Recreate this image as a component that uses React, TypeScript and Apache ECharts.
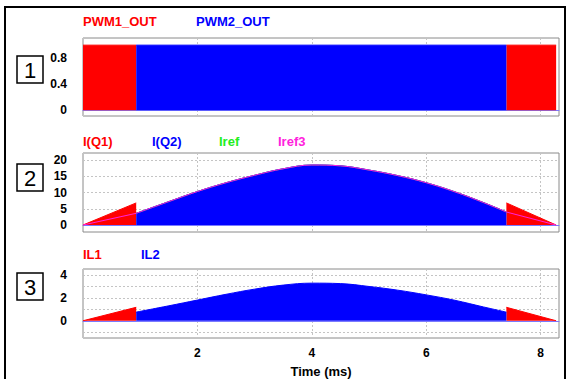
import React, { useEffect, useRef } from "react";
import * as echarts from "echarts";

// ---- data ----
const X_MAX = 8.32;
const xTicks = [2, 4, 6, 8];

// Panel 1: PWM signals (on-intervals, ms)
const pwm1On = [[0, 0.93], [7.40, 8.27]];
const pwm2On = [[0.93, 7.40]];

// Panel 2 / 3 envelope sample times (ms)
const envTime = [0.93, 1.5, 2, 2.5, 3, 3.5, 4, 4.5, 5, 5.5, 6, 6.5, 7, 7.4];
// I(Q2) envelope (A)
const iq2 = [3.6, 7.2, 10.3, 13.0, 15.3, 17.3, 18.45, 18.2, 16.9, 15.2, 13.0, 10.2, 6.9, 4.0];
// I(Q1) ramps: [time, value]
const iq1RampUp = [[0, 0], [0.93, 6.8]];
const iq1RampDown = [[7.40, 6.8], [8.27, 0]];
// Iref3 ramps
const iref3Up = [[0, 0], [0.93, 3.6]];
const iref3Down = [[7.40, 4.0], [8.27, 0]];

// IL2 envelope (A)
const il2 = [0.75, 1.3, 1.8, 2.3, 2.75, 3.1, 3.27, 3.23, 2.98, 2.66, 2.25, 1.78, 1.2, 0.75];
const il1RampUp = [[0, 0], [0.93, 1.17]];
const il1RampDown = [[7.40, 1.17], [8.27, 0]];

const y1Labels = [0, 0.4, 0.8];
const y2Labels = [0, 5, 10, 15, 20];
const y3Grid = [-1, 0, 1, 2, 3, 4];
const y3Labels = [0, 2, 4];

const RED = "#ff0000";
const BLUE = "#0000ff";
const GREEN = "#22ee22";
const MAGENTA = "#ff22dd";
const FONT = 'Arial, "Liberation Sans", sans-serif';

const env = (vals: number[]) => envTime.map((t, i) => [t, vals[i]]);

export default function App() {
  const ref = useRef<HTMLDivElement>(null);
  useEffect(() => {
    if (!ref.current) return;
    const chart = echarts.init(ref.current, null, { renderer: "svg" });

    const grids = [
      { left: 83, width: 476, top: 38, height: 78 },
      { left: 83, width: 476, top: 153, height: 79 },
      { left: 83, width: 476, top: 269, height: 72 },
    ].map((g) => ({ ...g, show: true, borderColor: "#8a8a8a", borderWidth: 1, backgroundColor: "transparent" }));

    const splitX = { show: true, lineStyle: { color: "#c4c4c4", type: [2, 2] as any, width: 1 } };
    const splitY = { show: true, lineStyle: { color: "#c4c4c4", type: [2, 2] as any, width: 1 } };
    const axLabel = { fontFamily: FONT, fontWeight: "bold" as const, fontSize: 12, color: "#000" };

    const xAxes = [0, 1, 2].map((i) => ({
      gridIndex: i,
      type: "value",
      min: 0,
      max: X_MAX,
      interval: 2,
      splitLine: splitX,
      axisTick: { show: false },
      axisLine: { show: true, onZero: true, lineStyle: { color: "#7a7aff", width: 1 } },
      axisLabel:
        i === 2
          ? { ...axLabel, margin: 9, showMinLabel: false, formatter: (v: number) => (xTicks.includes(v) ? String(v) : "") }
          : { show: false },
      name: i === 2 ? "Time (ms)" : "",
      nameLocation: "middle",
      nameGap: 27,
      nameTextStyle: { fontFamily: FONT, fontWeight: "bold", fontSize: 13, color: "#000" },
    }));

    const yAxes = [
      {
        gridIndex: 0, type: "value", min: -0.09, max: 1.11,
        axisLabel: { ...axLabel, margin: 16, customValues: y1Labels },
        axisTick: { show: false, customValues: y1Labels },
        splitLine: { show: false }, axisLine: { show: false },
      },
      {
        gridIndex: 1, type: "value", min: -2.15, max: 22.15,
        axisLabel: { ...axLabel, margin: 16, customValues: y2Labels },
        axisTick: { show: false, customValues: y2Labels },
        splitLine: splitY, axisLine: { show: false },
      },
      {
        gridIndex: 2, type: "value", min: -1.5, max: 4.5,
        axisLabel: { ...axLabel, margin: 16, customValues: y3Labels },
        axisTick: { show: false, customValues: y3Grid },
        splitLine: splitY, axisLine: { show: false },
      },
    ];

    const area = (name: string, data: number[][], color: string, axis: number, smooth: any = false) => ({
      name, type: "line", xAxisIndex: axis, yAxisIndex: axis, data, smooth,
      showSymbol: false, symbol: "none",
      lineStyle: { color, width: 1 }, areaStyle: { color, opacity: 1 },
      itemStyle: { color },
    });
    const line = (name: string, data: number[][], color: string, axis: number, smooth: any = false) => ({
      name, type: "line", xAxisIndex: axis, yAxisIndex: axis, data, smooth,
      showSymbol: false, symbol: "none",
      lineStyle: { color, width: 1 }, itemStyle: { color },
    });

    const SM = 0.4;
    const series: any[] = [];
    // Panel 1
    pwm1On.forEach(([a, b]) => series.push(area("PWM1_OUT", [[a, 1], [b, 1]], RED, 0)));
    pwm2On.forEach(([a, b]) => series.push(area("PWM2_OUT", [[a, 1], [b, 1]], BLUE, 0)));
    // Panel 2
    series.push(area("I(Q1)", iq1RampUp, RED, 1));
    series.push(area("I(Q1)", iq1RampDown, RED, 1));
    series.push(line("Iref", env(iq2), GREEN, 1, SM));
    series.push(area("I(Q2)", env(iq2), BLUE, 1, SM));
    series.push(line("Iref3", env(iq2), MAGENTA, 1, SM));
    series.push(line("Iref3", iref3Up, MAGENTA, 1));
    series.push(line("Iref3", iref3Down, MAGENTA, 1));
    // Panel 3
    series.push(area("IL1", il1RampUp, RED, 2));
    series.push(area("IL1", il1RampDown, RED, 2));
    series.push(area("IL2", env(il2), BLUE, 2, SM));

    const legendText = (text: string, x: number, y: number, color: string) => ({
      type: "text", x, y,
      style: { text, fill: color, font: `bold 13px ${FONT}`, textVerticalAlign: "middle" },
    });
    const boxLabel = (text: string, y: number) => ([
      { type: "rect", shape: { x: 17, y, width: 26, height: 27 }, style: { fill: "#fff", stroke: "#000", lineWidth: 1.5 } },
      { type: "text", x: 30, y: y + 14, style: { text, fill: "#000", font: `22px ${FONT}`, textAlign: "center", textVerticalAlign: "middle" } },
    ]);

    chart.setOption({
      animation: false,
      backgroundColor: "#fff",
      grid: grids,
      xAxis: xAxes,
      yAxis: yAxes,
      series,
      graphic: [
        { type: "rect", shape: { x: 5, y: 7, width: 560, height: 390 }, style: { fill: "none", stroke: "#000", lineWidth: 2 }, z: 100 },
        legendText("PWM1_OUT", 83, 21, RED),
        legendText("PWM2_OUT", 196, 21, BLUE),
        legendText("I(Q1)", 83, 141, RED),
        legendText("I(Q2)", 152, 141, BLUE),
        legendText("Iref", 219, 141, GREEN),
        legendText("Iref3", 278, 141, MAGENTA),
        legendText("IL1", 83, 254, RED),
        legendText("IL2", 141, 254, BLUE),
        ...boxLabel("1", 56),
        ...boxLabel("2", 164),
        ...boxLabel("3", 273),
      ],
    });
    return () => chart.dispose();
  }, []);

  return <div ref={ref} style={{ position: "fixed", left: 0, top: 0, width: 566, height: 379 }} />;
}
